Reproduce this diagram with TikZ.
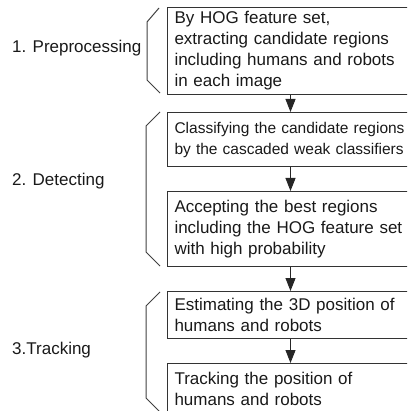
\documentclass[tikz,border=0pt]{standalone}
\usepackage{fontspec}
\setmainfont{Liberation Sans}
\usetikzlibrary{arrows.meta, positioning}

\begin{document}
\begin{tikzpicture}[x=1pt, y=-1pt,
    stepbox/.style={draw=black!80, line width=1pt, anchor=north west, text width=232pt,
        inner xsep=7pt, inner ysep=0pt, align=left, font=\fontsize{17}{21}\selectfont, text=black!90},
    flow/.style={draw=black!85, line width=1pt, -{Triangle[length=13pt, width=10pt]}},
    stagelabel/.style={anchor=west, inner sep=0pt, font=\fontsize{17}{21}\selectfont, text=black!90},
    bracket/.style={draw=black!75, line width=1pt}]

        \useasboundingbox (0,0) rectangle (407,411);
        \clip (0,0) rectangle (407,411);

        % Step boxes
        \node[stepbox, minimum height=87pt] (extract) at (167,7)
            {By HOG feature set,\\extracting candidate regions\\including humans and robots\\in each image};
        \node[stepbox, minimum height=54pt, font=\fontsize{15.5}{21}\selectfont] (classify) at (167,112)
            {\mbox{Classifying the candidate regions}\\\mbox{by the cascaded weak classifiers}};
        \node[stepbox, minimum height=75pt] (accept) at (167,191)
            {Accepting the best regions\\\mbox{including the HOG feature set}\\with high probability};
        \node[stepbox, minimum height=47pt] (estimate) at (167,291)
            {Estimating the 3D position of\\humans and robots};
        \node[stepbox, minimum height=50pt] (track) at (167,363)
            {Tracking the position of\\humans and robots};

        % Arrows between steps
        \draw[flow] (extract) -- (classify);
        \draw[flow] (classify) -- (accept);
        \draw[flow] (accept) -- (estimate);
        \draw[flow] (estimate) -- (track);

        % Brackets grouping the steps
        \draw[bracket] (159,8) -- (147,22) -- (147,80) -- (160,93);
        \draw[bracket] (160,112) -- (146,126) -- (146,252) -- (160,266);
        \draw[bracket] (160,292) -- (146,306) -- (146,398) -- (160,412);

        % Stage labels
        \node[stagelabel] (prep) at (12,48) {1. Preprocessing};
        \node[stagelabel] (detect) at (12,181) {2. Detecting};
        \node[stagelabel] (tracking) at (12,350) {3.Tracking};

    \end{tikzpicture}
\end{document}
